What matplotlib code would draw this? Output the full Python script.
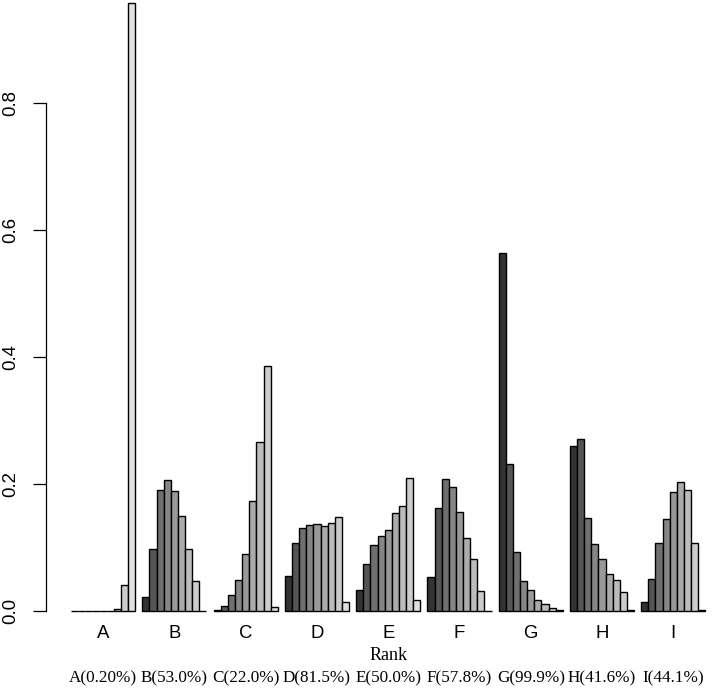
import matplotlib
matplotlib.use("Agg")
import matplotlib.pyplot as plt
import matplotlib.transforms as mtransforms
import numpy as np

# group names and the share shown under each group
groups = ["A", "B", "C", "D", "E", "F", "G", "H", "I"]
group_notes = ["A(0.20%)", "B(53.0%)", "C(22.0%)", "D(81.5%)", "E(50.0%)",
               "F(57.8%)", "G(99.9%)", "H(41.6%)", "I(44.1%)"]

# proportion per rank (9 ranks) for each group
rank_a = [0.0, 0.0, 0.0, 0.0, 0.0, 0.0, 0.003, 0.040, 0.957]
rank_b = [0.022, 0.097, 0.190, 0.206, 0.189, 0.149, 0.097, 0.046, 0.0]
rank_c = [0.001, 0.007, 0.024, 0.048, 0.090, 0.172, 0.265, 0.385, 0.006]
rank_d = [0.055, 0.107, 0.130, 0.135, 0.136, 0.133, 0.138, 0.148, 0.014]
rank_e = [0.032, 0.074, 0.104, 0.117, 0.127, 0.154, 0.165, 0.209, 0.017]
rank_f = [0.053, 0.162, 0.207, 0.195, 0.155, 0.114, 0.082, 0.031, 0.0]
rank_g = [0.564, 0.231, 0.092, 0.047, 0.033, 0.017, 0.010, 0.004, 0.001]
rank_h = [0.260, 0.271, 0.146, 0.105, 0.082, 0.058, 0.048, 0.029, 0.001]
rank_i = [0.013, 0.050, 0.106, 0.145, 0.187, 0.202, 0.190, 0.106, 0.001]

yticks = [0.0, 0.2, 0.4, 0.6, 0.8]
ytick_labels = ["0.0", "0.2", "0.4", "0.6", "0.8"]

values = np.array([rank_a, rank_b, rank_c, rank_d, rank_e, rank_f, rank_g, rank_h, rank_i])
n_groups, n_ranks = values.shape
greys = ["#333333", "#555555", "#6f6f6f", "#868686", "#999999",
         "#ababab", "#bcbcbc", "#cccccc", "#e0e0e0"]

W, H = 714, 691
fig = plt.figure(figsize=(W / 100, H / 100), dpi=100)

# R barplot(beside=TRUE) layout: one empty bar slot before each group
ax = fig.add_axes([45.7 / W, 56 / H, (W - 45.7) / W, (H - 56) / H])
ax.set_xlim(-2.56, 91.21)
ax.set_ylim(-0.0383, 0.9617)

for g in range(n_groups):
    lefts = 1 + g * (n_ranks + 1) + np.arange(n_ranks)
    ax.bar(lefts, values[g], width=1.0, align="edge", color=greys,
           edgecolor="black", linewidth=1.0)

for side in ["top", "right", "bottom"]:
    ax.spines[side].set_visible(False)
ax.spines["left"].set_bounds(0, 0.8)
ax.spines["left"].set_linewidth(0.9)
ax.set_yticks(yticks, [""] * len(yticks))
ax.tick_params(axis="y", length=9.1, width=0.9)
ax.set_xticks([])

# rotated y labels, as R draws them
ytrans = mtransforms.blended_transform_factory(fig.transFigure, ax.transData)
for val, lab in zip(yticks, ytick_labels):
    fig.text(10.5 / W, val, lab, transform=ytrans, rotation=90,
             ha="center", va="center", fontsize=13.4, family="Liberation Sans")

centers = 1 + np.arange(n_groups) * (n_ranks + 1) + n_ranks / 2
xtrans = mtransforms.blended_transform_factory(ax.transData, fig.transFigure)
for c, name, note in zip(centers, groups, group_notes):
    fig.text(c, 1 - 633.5 / H, name, transform=xtrans, ha="center", va="center",
             fontsize=13.4, family="Liberation Sans")
    fig.text(c, 1 - 678 / H, note, transform=xtrans, ha="center", va="center",
             fontsize=12.3, family="Liberation Serif")

fig.text(45.5, 1 - 655 / H, "Rank", transform=xtrans, ha="center", va="center",
         fontsize=13, family="Liberation Serif")

fig.savefig("out.png", dpi=100)
